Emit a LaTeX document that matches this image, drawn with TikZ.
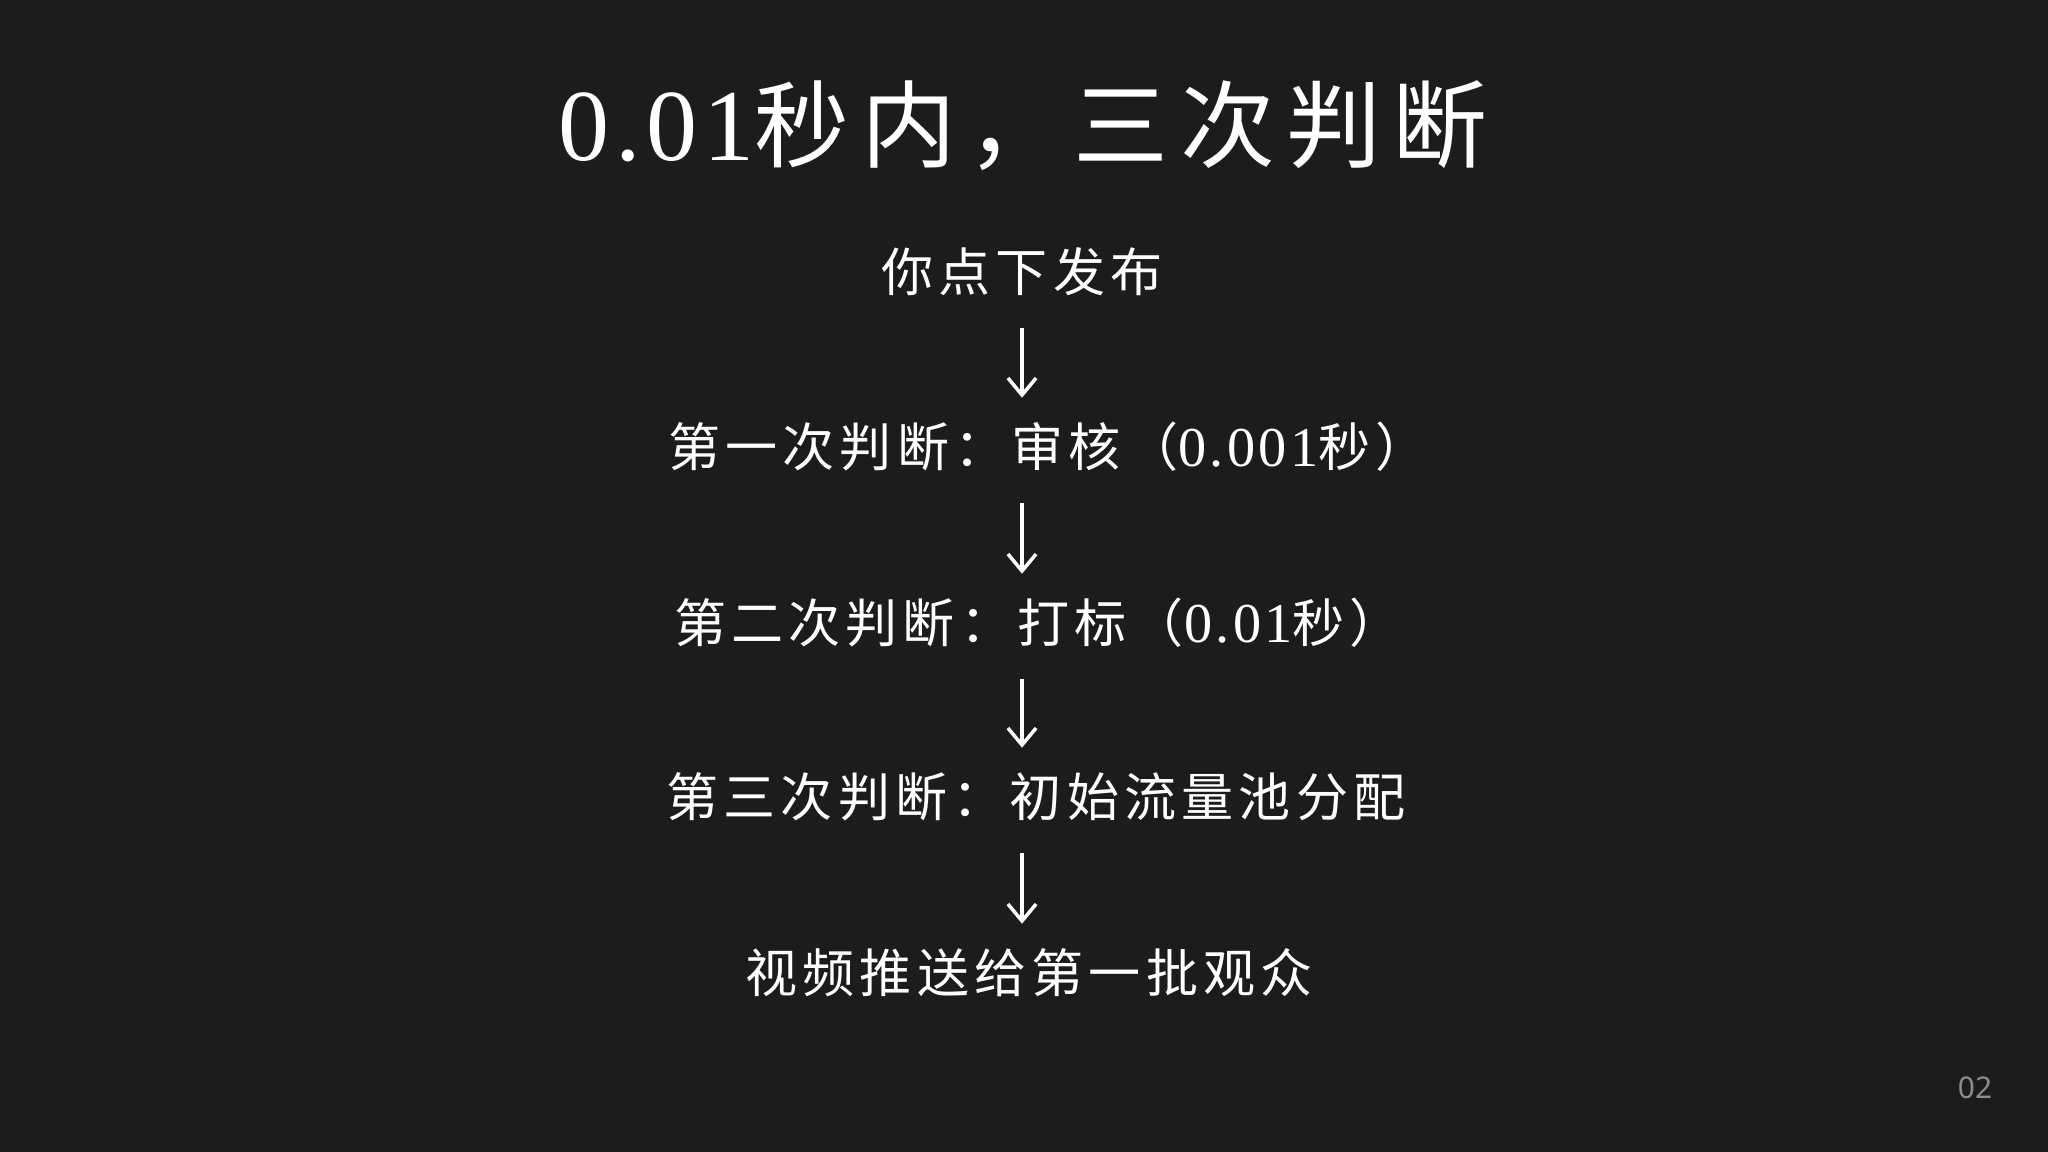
\documentclass[tikz,border=0pt]{standalone}
\usepackage{fontspec}
\usetikzlibrary{arrows.meta}
\newfontfamily\cjk{Noto Sans CJK SC}[LetterSpace=10]
\newfontfamily\cjktitle{Noto Sans CJK SC}[LetterSpace=12]
\newfontfamily\digits{Liberation Serif}[LetterSpace=6]
\newfontfamily\pagefont{Noto Sans}
\definecolor{bgcol}{RGB}{28,28,28}
\definecolor{pagegray}{RGB}{140,140,140}
\tikzset{
  titletext/.style={text=white,inner sep=0pt,font=\fontsize{27pt}{32pt}\selectfont\cjktitle},
  steptext/.style={text=white,inner sep=0pt,text height=0.88em,text depth=0.12em,
    font=\fontsize{14.8pt}{18pt}\selectfont\cjk},
  flowarrow/.style={white,line width=1pt,shorten <=0.32cm,shorten >=0.37cm,
    -{Straight Barb[length=4.8pt,width=8pt]}}
}
\newcommand\num[1]{{\digits\fontsize{16pt}{18pt}\selectfont #1}}
\begin{document}
\begin{tikzpicture}[x=0.01cm,y=-0.01cm]
\fill[bgcol] (0,0) rectangle (2048,1152);
\useasboundingbox (0,0) rectangle (2048,1152);

\node[titletext] (title) at (1023,126) {{\digits\fontsize{29pt}{32pt}\selectfont 0.01}秒内，三次判断};

\coordinate (axis) at (1022,0);
\node[steptext] (publish) at (1022,278) {你点下发布};
\node[steptext] (judge1) at (1048,453) {第一次判断：审核（\num{0.001}秒）};
\node[steptext] (judge2) at (1038,629) {第二次判断：打标（\num{0.01}秒）};
\node[steptext] (judge3) at (1036,803) {第三次判断：初始流量池分配};
\node[steptext] (push) at (1029,979) {视频推送给第一批观众};

\draw[flowarrow] (publish.south -| axis) -- (judge1.north -| axis);
\draw[flowarrow] (judge1.south -| axis) -- (judge2.north -| axis);
\draw[flowarrow] (judge2.south -| axis) -- (judge3.north -| axis);
\draw[flowarrow] (judge3.south -| axis) -- (push.north -| axis);

\node[text=pagegray,font=\fontsize{8.5pt}{10pt}\selectfont\pagefont] (page) at (1975,1088) {02};
\end{tikzpicture}
\end{document}
